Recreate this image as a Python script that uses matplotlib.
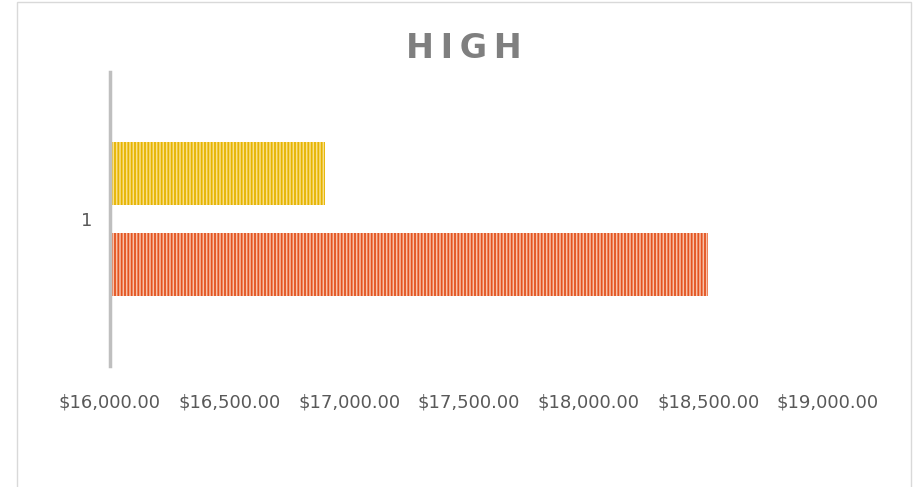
import numpy as np
import matplotlib.pyplot as plt
from matplotlib.patches import Rectangle

categories = ['1']
series_a = [18500]   # orange, lower bar
series_b = [16900]   # yellow, upper bar
xticks = [16000, 16500, 17000, 17500, 18000, 18500, 19000]

plt.rcParams['font.family'] = 'DejaVu Sans'
plt.rcParams['hatch.linewidth'] = 1.3
fig = plt.figure(figsize=(9.17, 4.87), dpi=100)
fig.patches.append(Rectangle((17/917, -0.1), (911-17)/917, 1.1 - 2/487, transform=fig.transFigure,
                             fill=False, edgecolor='#D9D9D9', linewidth=1))
ax = fig.add_axes([110/917, 1-366/487, (828-110)/917, (366-72)/487])

y = np.arange(1, len(categories)+1)
h = 0.214
off = 0.156
ax.barh(y - off, series_a, height=h, color='#F7C2AA', edgecolor='#E4531F', hatch='|||||', linewidth=0)
ax.barh(y + off, series_b, height=h, color='#F9E08C', edgecolor='#E6B400', hatch='|||||', linewidth=0)

ax.set_xlim(16000, 19000)
ax.set_ylim(0.5, 1.5)
ax.set_xticks(xticks)
ax.set_xticklabels(['${:,.2f}'.format(v) for v in xticks])
ax.set_yticks(y)
ax.set_yticklabels(categories)
ax.tick_params(axis='x', length=0, pad=20, labelsize=13, labelcolor='#595959')
ax.tick_params(axis='y', length=0, pad=13, labelsize=13, labelcolor='#595959')
for s in ['top', 'right', 'bottom']:
    ax.spines[s].set_visible(False)
ax.spines['left'].set_color('#BFBFBF')
ax.spines['left'].set_linewidth(2.5)

fig.text(464/917, 1-48/487, 'H\u2009I\u2009G\u2009H', ha='center', va='center', fontsize=24,
         fontweight='bold', color='#7F7F7F')

fig.savefig('out.png', dpi=100)
